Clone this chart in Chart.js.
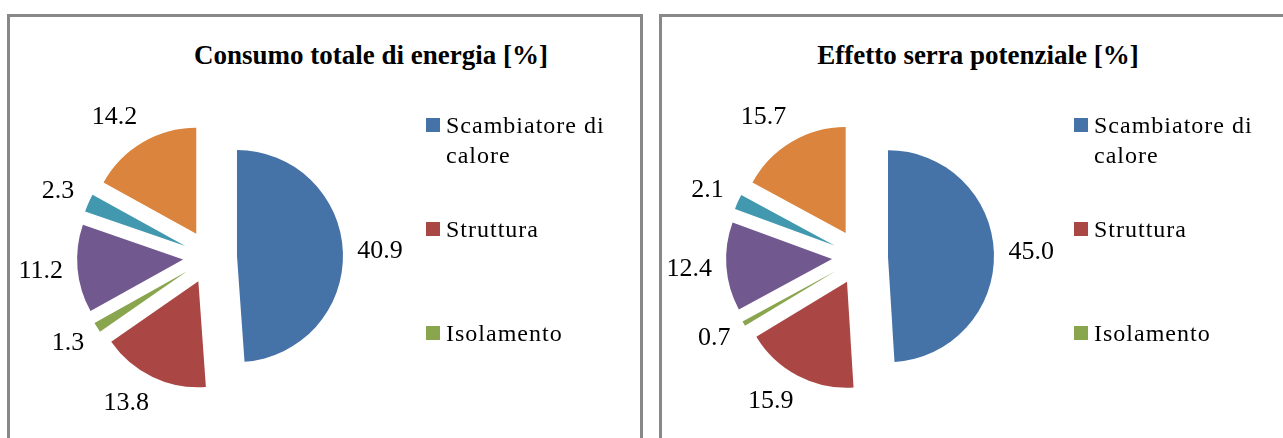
<!DOCTYPE html>
<html>
<head>
<meta charset="utf-8">
<script src="https://cdn.jsdelivr.net/npm/chart.js@4.4.0/dist/chart.umd.min.js"></script>
<style>
    html, body { margin: 0; padding: 0; background: #fff; }
    body {
        width: 1283px; height: 438px; overflow: hidden; position: relative;
        font-family: "Liberation Serif", "Times New Roman", serif; color: #000;
    }
    .panel { position: absolute; top: 14px; height: 470px; box-sizing: border-box; border: 3px solid #888; }
    #panelLeft { left: 7px; width: 636px; }
    #panelRight { left: 659px; width: 700px; }
    .title {
        position: absolute; top: 38px; width: 500px; text-align: center;
        font-weight: bold; font-size: 27px; line-height: 34px; white-space: nowrap;
    }
    .pie-box { position: absolute; top: 37px; width: 440px; height: 440px; }
    .legend { position: absolute; top: 0; width: 200px; }
    .legend-item {
        position: absolute; left: 0; padding-left: 20px; width: 175px;
        font-size: 24px; letter-spacing: 1px; line-height: 30px;
    }
    .legend-item .sw { position: absolute; left: 0; top: 8px; width: 14px; height: 14px; }
</style>
</head>
<body>
    <div class="panel" id="panelLeft"></div>
    <div class="panel" id="panelRight"></div>

    <div class="title" style="left: 121px;">Consumo totale di energia [%]</div>
    <div class="title" style="left: 728px;">Effetto serra potenziale [%]</div>

    <div class="pie-box" style="left: -10px;"><canvas id="energyChart"></canvas></div>
    <div class="pie-box" style="left: 640px;"><canvas id="greenhouseChart"></canvas></div>

    <div class="legend" id="energyLegend" style="left: 426px;"></div>
    <div class="legend" id="greenhouseLegend" style="left: 1074px;"></div>

<script>
    // Data (only the first three categories are visible in the legend)
    const categories = ['Scambiatore di calore', 'Struttura', 'Isolamento', '', '', ''];
    const energyValues = [40.9, 13.8, 1.3, 11.2, 2.3, 14.2];
    const greenhouseValues = [45.0, 15.9, 0.7, 12.4, 2.1, 15.7];
    const sliceColors = ['#4572a7', '#aa4643', '#89a54e', '#71588f', '#4198af', '#db843d'];

    const legendTops = [110, 214, 318];

    // Draws every slice pushed out along its bisector, then the value labels
    const explodedPie = {
        id: 'explodedPie',
        beforeDatasetDraw(chart, args, opts) {
            const ctx = chart.ctx;
            args.meta.data.forEach(arc => {
                const mid = (arc.startAngle + arc.endAngle) / 2;
                ctx.save();
                ctx.translate(Math.cos(mid) * opts.distance, Math.sin(mid) * opts.distance);
                arc.draw(ctx);
                ctx.restore();
            });
            return false;
        },
        afterDatasetsDraw(chart, args, opts) {
            const ctx = chart.ctx;
            const meta = chart.getDatasetMeta(0);
            const values = chart.data.datasets[0].data;
            ctx.save();
            ctx.font = opts.font;
            ctx.fillStyle = '#000';
            ctx.textAlign = 'center';
            ctx.textBaseline = 'middle';
            meta.data.forEach((arc, i) => {
                const mid = (arc.startAngle + arc.endAngle) / 2;
                const dx = Math.cos(mid);
                const dy = Math.sin(mid);
                const text = values[i].toFixed(1);
                const w = ctx.measureText(text).width;
                const reach = opts.distance + arc.outerRadius + opts.gap;
                const x = arc.x + dx * reach + Math.sign(dx) * w * 0.4;
                const y = arc.y + dy * reach + dy * opts.textHeight / 2;
                ctx.fillText(text, x, y);
            });
            ctx.restore();
        }
    };

    function makePie(canvasId, values, distance) {
        const ctx = document.getElementById(canvasId).getContext('2d');
        return new Chart(ctx, {
            type: 'pie',
            data: {
                labels: categories,
                datasets: [{
                    data: values,
                    backgroundColor: sliceColors,
                    borderWidth: 0
                }]
            },
            options: {
                responsive: true,
                maintainAspectRatio: false,
                animation: false,
                radius: 106,
                plugins: {
                    legend: { display: false },
                    tooltip: { enabled: false },
                    explodedPie: {
                        distance: distance,
                        gap: 19,
                        font: '26px "Liberation Serif"',
                        textHeight: 20
                    }
                }
            },
            plugins: [explodedPie]
        });
    }

    function makeLegend(containerId) {
        const box = document.getElementById(containerId);
        categories.forEach((name, i) => {
            if (!name || i >= legendTops.length) return;
            const item = document.createElement('div');
            item.className = 'legend-item';
            item.style.top = legendTops[i] + 'px';
            const sw = document.createElement('span');
            sw.className = 'sw';
            sw.style.background = sliceColors[i];
            item.appendChild(sw);
            item.appendChild(document.createTextNode(name));
            box.appendChild(item);
        });
    }

    makePie('energyChart', energyValues, 27);
    makePie('greenhouseChart', greenhouseValues, 28);
    makeLegend('energyLegend');
    makeLegend('greenhouseLegend');
</script>
</body>
</html>
